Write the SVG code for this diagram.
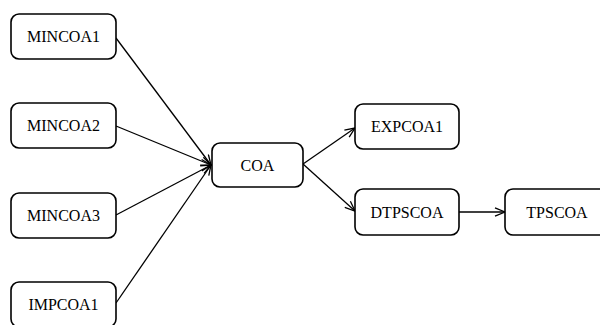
<svg xmlns="http://www.w3.org/2000/svg" width="600" height="325" viewBox="0 0 600 325">
<defs>
<marker id="arr" markerWidth="12" markerHeight="10" refX="11" refY="5" orient="auto" markerUnits="userSpaceOnUse">
<path d="M1,0.8 L11,5 L1,9.2" fill="none" stroke="#000" stroke-width="1.3"/>
</marker>
<style>
.n rect{fill:#fff;stroke:#000;stroke-width:1.6}
.n text{font-family:"Liberation Serif","Times New Roman",serif;font-size:16px;fill:#000;text-anchor:middle}
.e line{stroke:#000;stroke-width:1.3;marker-end:url(#arr)}
</style>
</defs>
<rect width="600" height="325" fill="#fff"/>
<g class="e" id="edges">
<line x1="116" y1="38" x2="211" y2="165"/>
<line x1="116" y1="126" x2="211" y2="165"/>
<line x1="116" y1="215" x2="211" y2="165"/>
<line x1="116" y1="303" x2="211" y2="165"/>
<line x1="303" y1="164" x2="355" y2="128"/>
<line x1="303" y1="164" x2="355" y2="211"/>
<line x1="459" y1="212" x2="505" y2="212"/>
</g>
<g class="n" id="MINCOA1"><rect x="11" y="14" width="105" height="45" rx="8"/><text x="63.5" y="42">MINCOA1</text></g>
<g class="n" id="MINCOA2"><rect x="11" y="103" width="105" height="45" rx="8"/><text x="63.5" y="131">MINCOA2</text></g>
<g class="n" id="MINCOA3"><rect x="11" y="193" width="105" height="45" rx="8"/><text x="63.5" y="221">MINCOA3</text></g>
<g class="n" id="IMPCOA1"><rect x="11" y="282" width="105" height="45" rx="8"/><text x="63.5" y="310">IMPCOA1</text></g>
<g class="n" id="COA"><rect x="212" y="143" width="91" height="44" rx="8"/><text x="257.5" y="170.5">COA</text></g>
<g class="n" id="EXPCOA1"><rect x="355" y="104" width="104" height="45" rx="8"/><text x="407" y="132">EXPCOA1</text></g>
<g class="n" id="DTPSCOA"><rect x="355" y="189" width="104" height="46" rx="8"/><text x="407" y="217.5">DTPSCOA</text></g>
<g class="n" id="TPSCOA"><rect x="505" y="189" width="104" height="46" rx="8"/><text x="557" y="217.5">TPSCOA</text></g>
</svg>
